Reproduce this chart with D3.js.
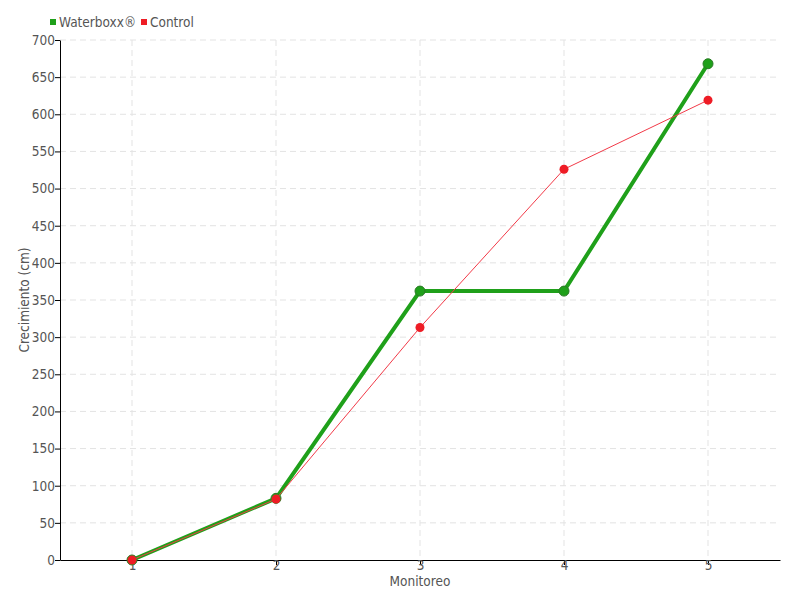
<!DOCTYPE html>
<html>
<head>
<meta charset="utf-8">
<script src="https://cdn.jsdelivr.net/npm/d3@7"></script>
<style>
  body { margin: 0; background: #fff; }
  text { font-family: "DejaVu Sans Condensed", "DejaVu Sans", sans-serif; fill: #555; }
</style>
</head>
<body>
<script>
const monitoreo = [1, 2, 3, 4, 5];
const waterboxx = [0, 83, 362, 362, 668];
const control = [0, 82, 313, 526, 619];
const yTicks = d3.range(0, 701, 50);

const margin = { top: 40, right: 20, bottom: 40, left: 60 };
const width = 800, height = 600;
const innerW = width - margin.left - margin.right;
const innerH = height - margin.top - margin.bottom;

const svg = d3.select('body').append('svg')
  .attr('width', width).attr('height', height);
const g = svg.append('g').attr('transform', `translate(${margin.left},${margin.top})`);

const x = d3.scaleLinear().domain([0.5, 5.5]).range([0, innerW]);
const y = d3.scaleLinear().domain([0, 700]).range([innerH, 0]);

// grid
g.append('g').selectAll('line').data(yTicks.slice(1)).enter().append('line')
  .attr('x1', 0).attr('x2', innerW)
  .attr('y1', d => y(d)).attr('y2', d => y(d))
  .attr('stroke', '#e3e3e3').attr('stroke-dasharray', '6,4');
g.append('g').selectAll('line').data(monitoreo).enter().append('line')
  .attr('x1', d => x(d)).attr('x2', d => x(d))
  .attr('y1', 0).attr('y2', innerH)
  .attr('stroke', '#e3e3e3').attr('stroke-dasharray', '6,4');

// axes
const xAxis = g.append('g').attr('transform', `translate(0,${innerH})`)
  .call(d3.axisBottom(x).tickValues(monitoreo).tickFormat(d3.format('d')).tickSize(5).tickSizeOuter(0));
const yAxis = g.append('g')
  .call(d3.axisLeft(y).tickValues(yTicks).tickSize(5).tickSizeOuter(0));
[xAxis, yAxis].forEach(a => {
  a.select('.domain').attr('stroke', '#000');
  a.selectAll('.tick line').attr('stroke', '#000');
  a.selectAll('text').style('font-size', '13.5px').attr('fill', '#555');
});
xAxis.selectAll('text').attr('dy', '0.55em').attr('y', 3);
yAxis.selectAll('text').attr('x', -5);

// axis labels
svg.append('text').attr('x', margin.left + x(3)).attr('y', 586)
  .attr('text-anchor', 'middle').style('font-size', '13.5px').text('Monitoreo');
svg.append('text').attr('transform', `translate(29,${margin.top + innerH / 2}) rotate(-90)`)
  .attr('text-anchor', 'middle').style('font-size', '13.5px').text('Crecimiento (cm)');

const line = d3.line().x((d, i) => x(monitoreo[i])).y(d => y(d));

// waterboxx
g.append('path').datum(waterboxx).attr('d', line)
  .attr('fill', 'none').attr('stroke', '#1fa01a').attr('stroke-width', 4);
g.selectAll('.wb').data(waterboxx).enter().append('circle')
  .attr('cx', (d, i) => x(monitoreo[i])).attr('cy', d => y(d)).attr('r', 5)
  .attr('fill', '#1fa01a').attr('stroke', '#2a7a25').attr('stroke-width', 1);

// control
g.append('path').datum(control).attr('d', line)
  .attr('fill', 'none').attr('stroke', '#f23a48').attr('stroke-width', 1);
g.selectAll('.ct').data(control).enter().append('circle')
  .attr('cx', (d, i) => x(monitoreo[i])).attr('cy', d => y(d)).attr('r', 4.5)
  .attr('fill', '#ee1c25');

// legend
const legend = [['Waterboxx®', '#1fa01a', 50], ['Control', '#ee1c25', 141]];
legend.forEach(([name, color, lx]) => {
  svg.append('rect').attr('x', lx).attr('y', 19).attr('width', 6).attr('height', 6).attr('fill', color);
  svg.append('text').attr('x', lx + 9).attr('y', 27).style('font-size', '13.5px').text(name);
});
</script>
</body>
</html>
